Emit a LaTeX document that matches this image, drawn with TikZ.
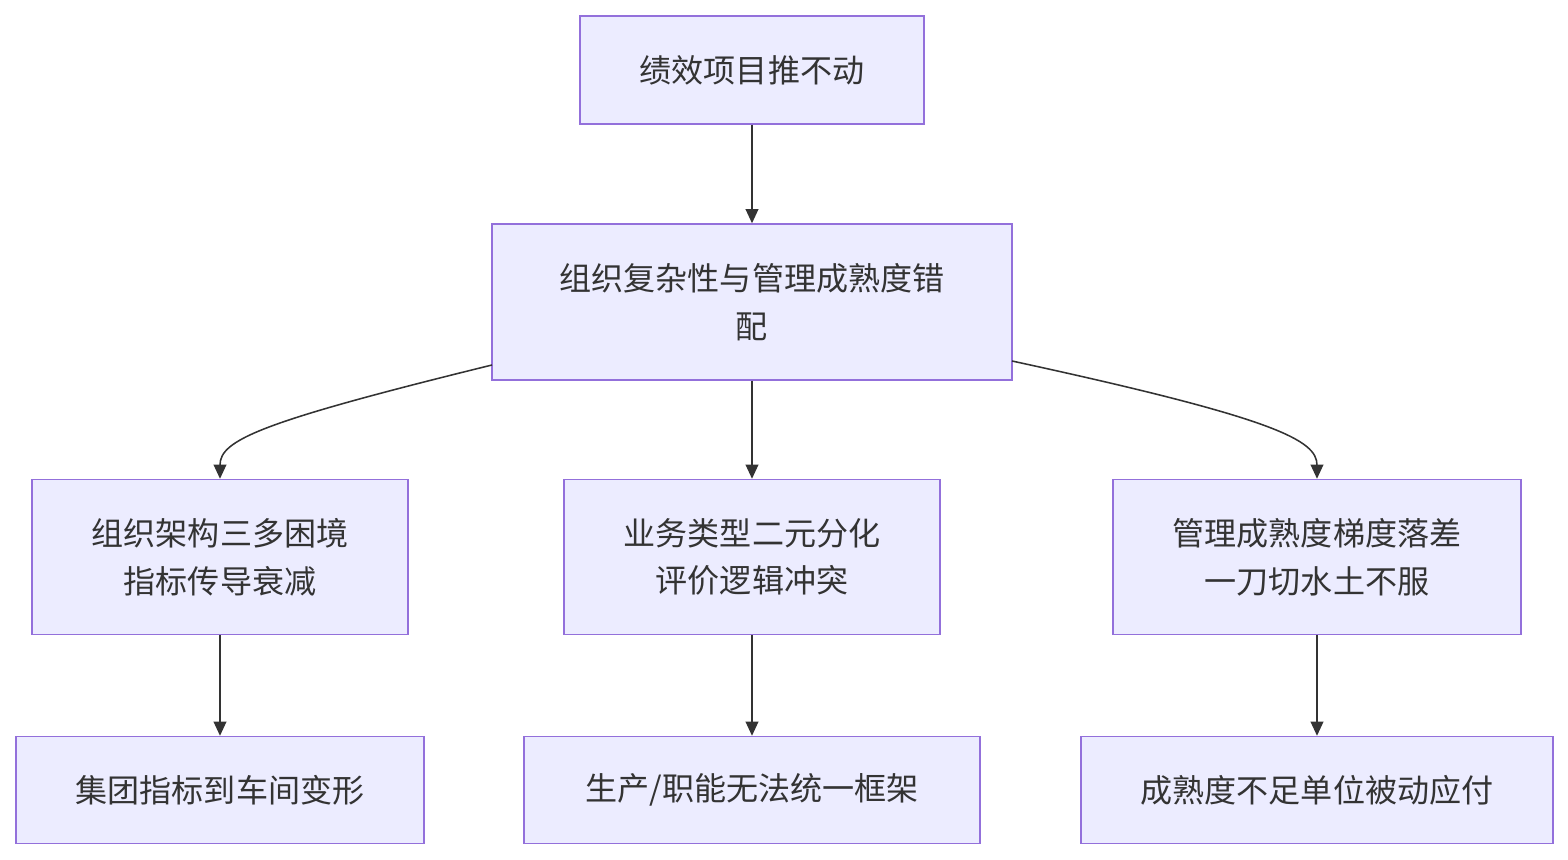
\documentclass[tikz,border=0pt]{standalone}
\usepackage{fontspec}
\setmainfont{Noto Sans CJK SC}
\usetikzlibrary{arrows.meta}
\definecolor{boxfill}{HTML}{ECECFF}
\definecolor{boxline}{HTML}{9370DB}
\definecolor{linkcol}{HTML}{333333}
\tikzset{
  box/.style={draw=boxline, fill=boxfill, line width=1pt, align=center, inner sep=0pt,
    font=\fontsize{22.8}{34}\selectfont, text=linkcol},
  link/.style={draw=linkcol, line width=1.1pt, -{Triangle[length=10pt,width=9pt]}}
}
\begin{document}
\begin{tikzpicture}[x=0.025cm,y=-0.025cm]
		\useasboundingbox (0,0) rectangle (1568,860);
		% top
		\node[box, minimum width=8.6cm, minimum height=2.7cm] (A) at (752,70) {绩效项目推不动};
		\node[box, minimum width=13cm, minimum height=3.9cm] (B) at (752,302) {组织复杂性与管理成熟度错\\配};
		% middle row
		\node[box, minimum width=9.4cm, minimum height=3.875cm] (C1) at (220,557) {组织架构三多困境\\指标传导衰减};
		\node[box, minimum width=9.4cm, minimum height=3.875cm] (C2) at (752,557) {业务类型二元分化\\评价逻辑冲突};
		\node[box, minimum width=10.2cm, minimum height=3.875cm] (C3) at (1317,557) {管理成熟度梯度落差\\一刀切水土不服};
		% bottom row
		\node[box, minimum width=10.2cm, minimum height=2.675cm] (D1) at (220,790) {集团指标到车间变形};
		\node[box, minimum width=11.4cm, minimum height=2.675cm] (D2) at (752,790) {生产/职能无法统一框架};
		\node[box, minimum width=11.8cm, minimum height=2.675cm] (D3) at (1317,790) {成熟度不足单位被动应付};
		% links
		\coordinate (Bl) at (492,365);
		\coordinate (Br) at (1012,361);
		\draw[link] (A) -- (B);
		\draw[link] (B) -- (C2);
		\draw[link] (Bl) .. controls (260,422) and (220,440) .. (C1.north);
		\draw[link] (Br) .. controls (1275,418) and (1317,440) .. (C3.north);
		\draw[link] (C1) -- (D1);
		\draw[link] (C2) -- (D2);
		\draw[link] (C3) -- (D3);
	\end{tikzpicture}
\end{document}
